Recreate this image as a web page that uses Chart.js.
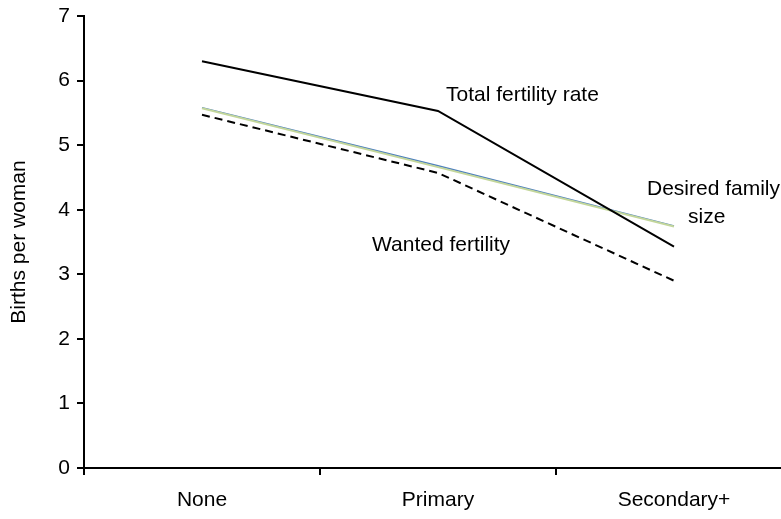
<!DOCTYPE html>
<html>
<head>
<meta charset="utf-8">
<script src="https://cdn.jsdelivr.net/npm/chart.js@4/dist/chart.umd.min.js"></script>
<style>
    html, body { margin: 0; padding: 0; background: #fff; overflow: hidden; }
    canvas { display: block; }
</style>
</head>
<body>
<canvas id="chart" width="800" height="519"></canvas>
<script>
// Data
const categories = ['None', 'Primary', 'Secondary+'];
const totalFertility = [6.30, 5.53, 3.43];
const wantedFertility = [5.47, 4.57, 2.90];
const desiredBlue = [5.58, 4.68, 3.75];
const desiredGreen = [5.57, 4.66, 3.74];
const yTicks = [0, 1, 2, 3, 4, 5, 6, 7];

const FONT = '"Liberation Sans", Arial, sans-serif';

// Text labels placed next to the lines
const notes = [
    { text: 'Total fertility rate', x: 446, y: 101 },
    { text: 'Wanted fertility', x: 372, y: 251 },
    { text: 'Desired family', x: 647, y: 195 },
    { text: 'size', x: 688, y: 223 }
];

const notesPlugin = {
    id: 'notes',
    afterDatasetsDraw(chart) {
        const ctx = chart.ctx;
        ctx.save();
        ctx.font = '21px ' + FONT;
        ctx.fillStyle = '#000';
        ctx.textAlign = 'left';
        ctx.textBaseline = 'alphabetic';
        notes.forEach(n => ctx.fillText(n.text, n.x, n.y));
        ctx.restore();
    }
};

new Chart(document.getElementById('chart'), {
    type: 'line',
    data: {
        labels: categories,
        datasets: [
            {
                label: 'Total fertility rate',
                data: totalFertility,
                borderColor: '#000',
                borderWidth: 2
            },
            {
                label: 'Wanted fertility',
                data: wantedFertility,
                borderColor: '#000',
                borderWidth: 2,
                borderDash: [8, 5]
            },
            {
                label: 'Desired family size (green)',
                data: desiredGreen,
                borderColor: '#c3d69b',
                borderWidth: 2
            },
            {
                label: 'Desired family size',
                data: desiredBlue,
                borderColor: '#4f81bd',
                borderWidth: 1.5
            }
        ]
    },
    options: {
        responsive: false,
        animation: false,
        layout: { padding: { top: 16, right: 8, left: 0, bottom: 0 } },
        elements: {
            point: { radius: 0 },
            line: { tension: 0, fill: false }
        },
        plugins: {
            legend: { display: false },
            tooltip: { enabled: false }
        },
        scales: {
            x: {
                offset: true,
                grid: {
                    offset: true,
                    drawOnChartArea: false,
                    drawTicks: true,
                    tickLength: 7,
                    color: '#000',
                    lineWidth: 2
                },
                border: { display: true, color: '#000', width: 2 },
                ticks: {
                    color: '#000',
                    font: { family: FONT, size: 21 },
                    padding: 13
                },
                afterFit(scale) {
                    scale.height = 51;
                    scale.paddingLeft = 0;
                    scale.paddingRight = 0;
                }
            },
            y: {
                min: 0,
                max: 7,
                afterBuildTicks(scale) {
                    scale.ticks = yTicks.map(v => ({ value: v }));
                },
                grid: {
                    drawOnChartArea: false,
                    drawTicks: true,
                    tickLength: 7,
                    color: '#000',
                    lineWidth: 2
                },
                border: { display: true, color: '#000', width: 2 },
                ticks: {
                    color: '#000',
                    font: { family: FONT, size: 21 },
                    padding: 7
                },
                title: {
                    display: true,
                    text: 'Births per woman',
                    color: '#000',
                    font: { family: FONT, size: 21 },
                    padding: { top: 7, bottom: 0 }
                },
                afterFit(scale) {
                    scale.width = 84;
                    scale.paddingTop = 0;
                    scale.paddingBottom = 0;
                }
            }
        }
    },
    plugins: [notesPlugin]
});
</script>
</body>
</html>
